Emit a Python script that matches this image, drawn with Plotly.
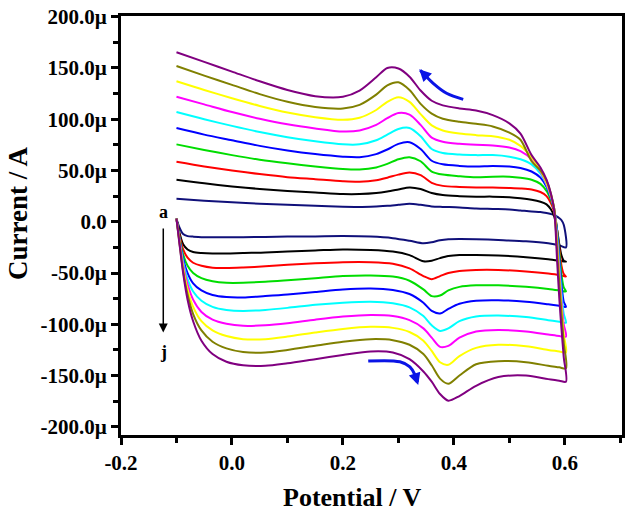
import plotly.graph_objects as go

# Potential grid (V) for the lower (forward) and upper (return) branches
LX = [-0.100, -0.095, -0.088, -0.080, -0.070, -0.055, -0.035, -0.010, 0.020, 0.060, 0.100, 0.150,
      0.200, 0.250, 0.290, 0.320, 0.345, 0.360, 0.375, 0.390, 0.410, 0.440, 0.480, 0.530, 0.570,
      0.590, 0.602]
UX = [-0.10, -0.05, 0.00, 0.05, 0.10, 0.15, 0.20, 0.23, 0.26, 0.28, 0.30, 0.32, 0.34, 0.36, 0.38,
      0.41, 0.44, 0.47, 0.50, 0.52, 0.54, 0.556, 0.567, 0.575, 0.581, 0.586, 0.590, 0.594, 0.598, 0.602]

labels = ["a", "b", "c", "d", "e", "f", "g", "h", "i", "j"]
colors = ["#10107a", "#000000", "#ff0000", "#00dd00", "#0000ff", "#00ffff", "#ff00ff", "#ffff00",
          "#808000", "#800080"]

# Current (µA), lower branch
a_low = [3, -5, -12, -14, -14.5, -15, -15, -15, -15, -14.8, -14.5, -14.3, -14, -14.5, -16, -18.5, -21,
         -20, -18, -17, -16.8, -17, -17.8, -19, -21, -23, -25]
b_low = [3, -10, -22, -27, -29.5, -30.5, -31, -31, -30.5, -30, -29, -28, -27, -27.5, -29, -32.5, -38.5,
         -38, -35.5, -33.5, -32.5, -32.5, -33, -34.5, -36.5, -38, -39]
c_low = [3, -12, -27, -35, -40, -43, -44.8, -45, -44.5, -43.5, -42, -40.5, -39.5, -39.5, -41, -45.5, -53,
         -56, -53, -50, -48, -47, -47, -48.5, -50.5, -52, -53.5]
d_low = [3, -14, -32, -43, -50, -55, -58, -59.5, -59.5, -58.5, -57, -55, -53, -52.5, -53.5, -57.5, -66,
         -72.5, -72, -67, -63.5, -62, -62, -63.5, -65.5, -67, -68]
e_low = [3, -15, -36, -50, -60, -67, -71.5, -73.5, -73.8, -72.5, -71, -68.5, -66, -65, -66.5, -70.5, -79,
         -87, -89.5, -85, -80, -77, -76.5, -78, -80.5, -82, -83]
f_low = [3, -16, -39, -56, -68, -77, -83, -86, -87, -86, -84, -81, -79, -78, -79.5, -83.5, -92, -101,
         -106.5, -104, -97, -92.5, -91.5, -93, -96, -97.5, -98.5]
g_low = [3, -17, -42, -61, -76, -88, -95.5, -99.5, -101.5, -101, -99, -95.5, -92.5, -91, -92, -96, -104,
         -113, -122, -121, -113, -107, -105.5, -107, -110, -111.5, -112]
h_low = [3, -18, -45, -66, -83, -97, -106, -111.5, -114.5, -114.5, -112, -108, -104.5, -102.5, -103.5,
         -107.5, -116, -126, -137, -139.5, -131, -123, -120, -121.5, -125, -126.5, -127.5]
i_low = [3, -19, -48, -71, -90, -106, -117, -123.5, -127, -127.5, -125, -121, -117, -114.5, -115.5, -120,
         -129, -140, -153, -158, -150, -139, -136, -137, -140.5, -142, -143]
j_low = [3, -20, -50, -76, -97, -116, -129, -136.5, -140, -140.5, -138, -134, -130, -126.5, -127.5, -134,
         -146, -156, -168, -174.5, -170, -160, -151.5, -150, -153.5, -155, -156]

# Current (µA), upper branch
a_up = [22.4, 20.5, 19, 17.5, 16.5, 15.5, 14.6, 14.5, 15, 15.5, 16.5, 17.5, 16.5, 15, 14.5, 14, 13, 12.5,
        12, 11, 10, 9.5, 8.5, 7.5, 6.5, 5, 3.5, 1.5, -3, -25]
b_up = [41, 37.5, 34.5, 32, 30, 28.5, 27, 27, 28, 29.5, 31.5, 33.5, 32, 28, 26, 25, 24.5, 24.5, 24, 23,
        21.5, 19.5, 17, 12, 5, -8, -22, -33, -38, -39]
c_up = [58.5, 54, 50, 46.5, 43.5, 41.5, 39.5, 39, 40.5, 43, 46, 48, 45.5, 38, 35, 34, 33.5, 33.5, 33,
        32.5, 31.5, 29, 25, 18, 9, -8, -26, -43, -51, -53.5]
d_up = [75.5, 70, 65, 60.5, 57, 54, 51.5, 51, 53, 56.5, 61, 63, 59, 49, 46, 44.5, 43.5, 44, 44, 43, 41,
        37, 30, 21, 11, -8, -30, -52, -64, -68]
e_up = [91.4, 85, 79.5, 74, 69.5, 66, 63.5, 63, 66, 70.5, 76, 77.5, 71, 59.5, 56, 54.5, 54, 54.5, 54,
        52.5, 49, 43, 34, 23, 12, -10, -36, -62, -78, -83]
f_up = [107, 100, 93.5, 87.5, 82.5, 78.5, 75.5, 75.5, 79.5, 85, 90.5, 91.5, 83.5, 71, 67, 65.5, 65, 65,
        63.5, 61, 56, 47, 36, 24, 12, -14, -42, -70, -90, -98.5]
g_up = [122, 114.5, 107, 100.5, 95, 91, 88, 89, 94.5, 101, 106, 104.5, 94.5, 82, 78, 76, 75, 74.5, 72.5,
        69, 61, 49, 37, 25, 12, -18, -48, -78, -100, -112]
h_up = [137, 128.5, 120.5, 113, 106.5, 102, 99.5, 101.5, 109, 117, 121.5, 117, 105, 94, 89, 86, 84.5,
        83.5, 80, 74, 63, 50, 38, 26, 12, -22, -55, -85, -110, -127.5]
i_up = [151.9, 142.5, 133.5, 124.5, 117, 112, 110.5, 114, 124, 133, 136, 128.5, 115, 105.5, 100.5, 97.5,
        95.5, 93, 87, 80, 59, 50, 40, 27, 12, -28, -60, -90, -118, -143]
j_up = [165.3, 156, 146.5, 137, 128.5, 122.5, 122, 128, 141, 150, 149.5, 141.5, 128, 118, 113.5, 110.5,
        108.5, 104, 96, 86, 65, 53, 41, 27, 10, -38, -75, -105, -132, -156]

lows = [a_low, b_low, c_low, d_low, e_low, f_low, g_low, h_low, i_low, j_low]
ups = [a_up, b_up, c_up, d_up, e_up, f_up, g_up, h_up, i_up, j_up]

# y-axis ticks
y_tickvals = [-200, -150, -100, -50, 0, 50, 100, 150, 200]
y_ticktext = ["-200.0\u00b5", "-150.0\u00b5", "-100.0\u00b5", "-50.0\u00b5", "0.0",
              "50.0\u00b5", "100.0\u00b5", "150.0\u00b5", "200.0\u00b5"]
y_minor = [-175, -125, -75, -25, 25, 75, 125, 175]
x_tickvals = [-0.2, 0.0, 0.2, 0.4, 0.6]
x_ticktext = ["-0.2", "0.0", "0.2", "0.4", "0.6"]
x_minor = [-0.1, 0.1, 0.3, 0.5, 0.7]

# scan-direction arrows (decoration)
arc_up_x = [0.4168, 0.3868, 0.3627, 0.3447, 0.3395]
arc_up_y = [119.4, 125.3, 135.0, 144.8, 147.8]
arc_low_x = [0.2456, 0.3027, 0.3207, 0.3300, 0.3345]
arc_low_y = [-135.9, -136.6, -141.5, -149.6, -156.0]

fig = go.Figure()
for lab, col, lo, up in zip(labels, colors, lows, ups):
    xs = LX + UX[::-1][1:]
    ys = lo + up[::-1][1:]
    fig.add_trace(go.Scatter(x=xs, y=ys, mode="lines", name=lab,
                             line=dict(color=col, width=2, shape="spline", smoothing=0.8),
                             showlegend=False, hoverinfo="skip"))

fig.add_trace(go.Scatter(x=arc_up_x, y=arc_up_y, mode="lines",
                         line=dict(color="#0a14e6", width=3, shape="spline"),
                         showlegend=False, hoverinfo="skip"))
fig.add_trace(go.Scatter(x=arc_low_x, y=arc_low_y, mode="lines",
                         line=dict(color="#0a14e6", width=3, shape="spline"),
                         showlegend=False, hoverinfo="skip"))

serif = "Liberation Serif, Times New Roman, serif"
ann = [
    dict(x=-0.1238, y=10, text="<b>a</b>", showarrow=False, font=dict(family=serif, size=18, color="black")),
    dict(x=-0.1238, y=-127, text="<b>j</b>", showarrow=False, font=dict(family=serif, size=18, color="black")),
    dict(x=-0.1238, y=-108, ax=-0.1238, ay=-5, axref="x", ayref="y", xref="x", yref="y", text="",
         showarrow=True, arrowhead=2, arrowsize=1.2, arrowwidth=1.5, arrowcolor="black"),
    dict(x=0.3375, y=148.7, ax=arc_up_x[-2], ay=arc_up_y[-2], axref="x", ayref="y", text="",
         showarrow=True, arrowhead=2, arrowsize=0.8, arrowwidth=3, arrowcolor="#0a14e6"),
    dict(x=0.3357, y=-159.3, ax=arc_low_x[-2], ay=arc_low_y[-2], axref="x", ayref="y", text="",
         showarrow=True, arrowhead=2, arrowsize=0.8, arrowwidth=3, arrowcolor="#0a14e6"),
    dict(x=0.462, y=-0.150, xref="paper", yref="paper", xanchor="center", yanchor="middle",
         text="<b>Potential / V</b>", showarrow=False,
         font=dict(family=serif, size=26, color="black")),
    dict(x=-0.2056, y=0.53, xref="paper", yref="paper", xanchor="center", yanchor="middle",
         text="<b>Current / A</b>", showarrow=False,
         textangle=-90, font=dict(family=serif, size=27, color="black")),
]

fig.update_layout(
    width=628, height=514,
    margin=dict(l=121, r=6, t=16, b=79, autoexpand=False),
    paper_bgcolor="white", plot_bgcolor="white",
    annotations=ann,
    xaxis=dict(range=[-0.2, 0.703], showgrid=False, zeroline=False, showline=True, linewidth=3,
               linecolor="black", mirror=True, ticks="outside", ticklen=7, tickwidth=2.5,
               tickcolor="black", tickmode="array", tickvals=x_tickvals, ticktext=x_ticktext,
               automargin=False, ticklabeloverflow="allow",
               tickfont=dict(family=serif, size=21, color="black", weight="bold"),
               minor=dict(tickmode="array", tickvals=x_minor, ticks="outside", ticklen=5,
                          tickwidth=2.5, tickcolor="black", showgrid=False)),
    yaxis=dict(range=[-208, 200.7], showgrid=False, zeroline=False, showline=True, linewidth=3,
               linecolor="black", mirror=True, ticks="outside", ticklen=7, tickwidth=2.5,
               tickcolor="black", tickmode="array", tickvals=y_tickvals, ticktext=y_ticktext,
               automargin=False, ticklabeloverflow="allow",
               tickfont=dict(family=serif, size=21, color="black", weight="bold"),
               minor=dict(tickmode="array", tickvals=y_minor, ticks="outside", ticklen=5,
                          tickwidth=2.5, tickcolor="black", showgrid=False)),
)

# remove the page's default 8 px body margin so the figure fills the window exactly
fig.write_html("out.html", config={"displayModeBar": False},
               post_script="document.body.style.margin='0px';")
